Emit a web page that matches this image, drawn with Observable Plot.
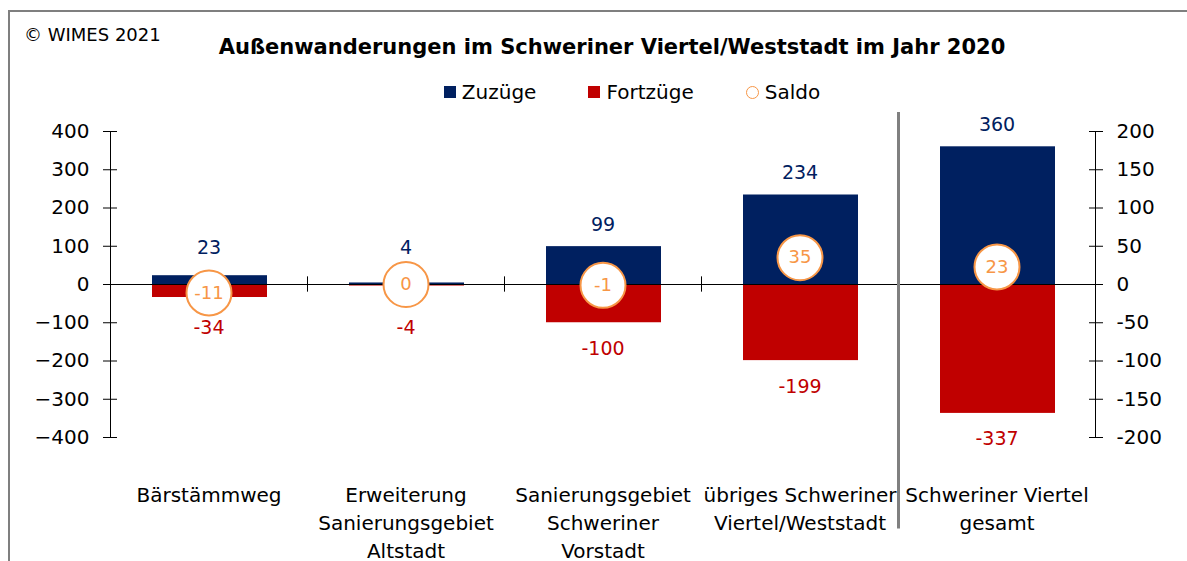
<!DOCTYPE html>
<html><head><meta charset="utf-8">
<script src="https://cdn.jsdelivr.net/npm/d3@7"></script>
<script src="https://cdn.jsdelivr.net/npm/@observablehq/plot@0.6"></script>
<style>
body{margin:0;background:#fff;font-family:"DejaVu Sans",sans-serif;overflow:hidden;color:#000;}
#wrap{position:relative;width:1187px;height:561px;overflow:hidden;}
#border{position:absolute;left:8px;top:10px;width:1300px;height:700px;border-left:2px solid #7f7f7f;border-top:2px solid #7f7f7f;pointer-events:none;}
#header{position:relative;height:105px;}
#copy{position:absolute;left:24px;top:24px;font-size:18px;}
#title{position:absolute;left:0;width:1187px;top:35px;text-align:center;padding-left:37px;box-sizing:border-box;font-weight:bold;font-size:21px;}
#legend{position:absolute;left:0;width:1187px;top:80px;display:flex;justify-content:center;padding-left:77px;box-sizing:border-box;font-size:20px;gap:52px;}
.item{display:flex;align-items:center;gap:6px;}
.sq{width:12px;height:12px;display:inline-block;}
.ci{width:11px;height:11px;border:1.5px solid #F79646;border-radius:50%;display:inline-block;}
svg{display:block;}
</style></head>
<body>
<div id="wrap">
<div id="header">
  <div id="copy">© WIMES 2021</div>
  <div id="title">Außenwanderungen im Schweriner Viertel/Weststadt im Jahr 2020</div>
  <div id="legend"></div>
</div>
<div id="chart"></div>
<div id="border"></div>
</div>
<script>
const categories = ["Bärstämmweg", "Erweiterung Sanierungsgebiet Altstadt", "Sanierungsgebiet Schweriner Vorstadt", "übriges Schweriner Viertel/Weststadt", "Schweriner Viertel gesamt"];
const tickLabels = ["Bärstämmweg", "Erweiterung\nSanierungsgebiet\nAltstadt", "Sanierungsgebiet\nSchweriner\nVorstadt", "übriges Schweriner\nViertel/Weststadt", "Schweriner Viertel\ngesamt"];
const zuzuege = [23, 4, 99, 234, 360];
const fortzuege = [-34, -4, -100, -199, -337];
const saldo = [-11, 0, -1, 35, 23];
const leftTicks = [-400, -300, -200, -100, 0, 100, 200, 300, 400];
const rightTicks = [-200, -150, -100, -50, 0, 50, 100, 150, 200];
const seriesNames = ["Zuzüge", "Fortzüge", "Saldo"];
const colors = {zu: "#002060", fo: "#C00000", saldo: "#F79646"};

const saldoFactor = 2; // right axis (-200..200) vs left axis (-400..400)
const separatorExtent = [450, -639];

const data = categories.map((c, i) => ({cat: c, label: tickLabels[i], zu: zuzuege[i], fo: fortzuege[i], saldo: saldo[i]}));
const labelOf = Object.fromEntries(data.map(d => [d.cat, d.label]));

// legend
const lg = document.getElementById("legend");
lg.innerHTML =
  `<span class="item"><span class="sq" style="background:${colors.zu}"></span>${seriesNames[0]}</span>` +
  `<span class="item"><span class="sq" style="background:${colors.fo}"></span>${seriesNames[1]}</span>` +
  `<span class="item"><span class="ci"></span>${seriesNames[2]}</span>`;

const W = 1187, H = 456, mL = 110, mR = 92;
const step = (W - mL - mR) / categories.length;
const FONT = '"DejaVu Sans",sans-serif';

const chart = Plot.plot({
  width: W, height: H,
  marginTop: 26, marginBottom: 124, marginLeft: mL, marginRight: mR,
  x: {domain: categories, padding: 0, axis: null},
  y: {domain: [-400, 400], axis: null},
  style: {fontFamily: FONT, fontSize: "20px", color: "#000", background: "transparent", overflow: "visible"},
  marks: [
    Plot.barY(data, {x: "cat", y: "zu", fill: colors.zu, insetLeft: 42, insetRight: 40}),
    Plot.barY(data, {x: "cat", y: "fo", fill: colors.fo, insetLeft: 42, insetRight: 40}),
    Plot.ruleY([0], {stroke: "#000", strokeWidth: 1}),
    Plot.ruleX(categories.slice(1, 4), {dx: -step / 2, y1: -20, y2: 20, stroke: "#000"}),
    Plot.ruleX([categories[4]], {dx: -step / 2, y1: separatorExtent[0], y2: separatorExtent[1], stroke: "#808080", strokeWidth: 3}),
    Plot.ruleX([categories[0]], {dx: -step / 2, y1: -400, y2: 400, stroke: "#000"}),
    Plot.ruleX([categories[4]], {dx: step / 2, y1: -400, y2: 400, stroke: "#000"}),
    Plot.axisY({anchor: "left", label: null, ticks: leftTicks, tickSize: 14, dx: 7, tickPadding: 14, fontSize: 20, stroke: "#000"}),
    Plot.axisY({anchor: "right", label: null, ticks: rightTicks.map(v => v * saldoFactor), tickFormat: d => String(d / saldoFactor), tickSize: 14, dx: -7, tickPadding: 14, fontSize: 20}),
    Plot.axisX({anchor: "bottom", label: null, tickSize: 0, tickPadding: 45, fontSize: 20, lineHeight: 1.4, tickFormat: d => labelOf[d]}),
    Plot.text(data, {x: "cat", y: d => Math.max(d.zu, 39), text: d => String(d.zu), dy: -22, fill: colors.zu, fontSize: 19}),
    Plot.text(data, {x: "cat", y: d => Math.min(d.fo, -45), text: d => String(d.fo), dy: 26, fill: colors.fo, fontSize: 19}),
    Plot.dot(data, {x: "cat", y: d => d.saldo * saldoFactor, r: 22.5, fill: "#fff", stroke: colors.saldo, strokeWidth: 2}),
    Plot.text(data, {x: "cat", y: d => d.saldo * saldoFactor, text: d => String(d.saldo), fill: colors.saldo, fontSize: 18})
  ]
});
document.getElementById("chart").appendChild(chart);
</script>
</body></html>
